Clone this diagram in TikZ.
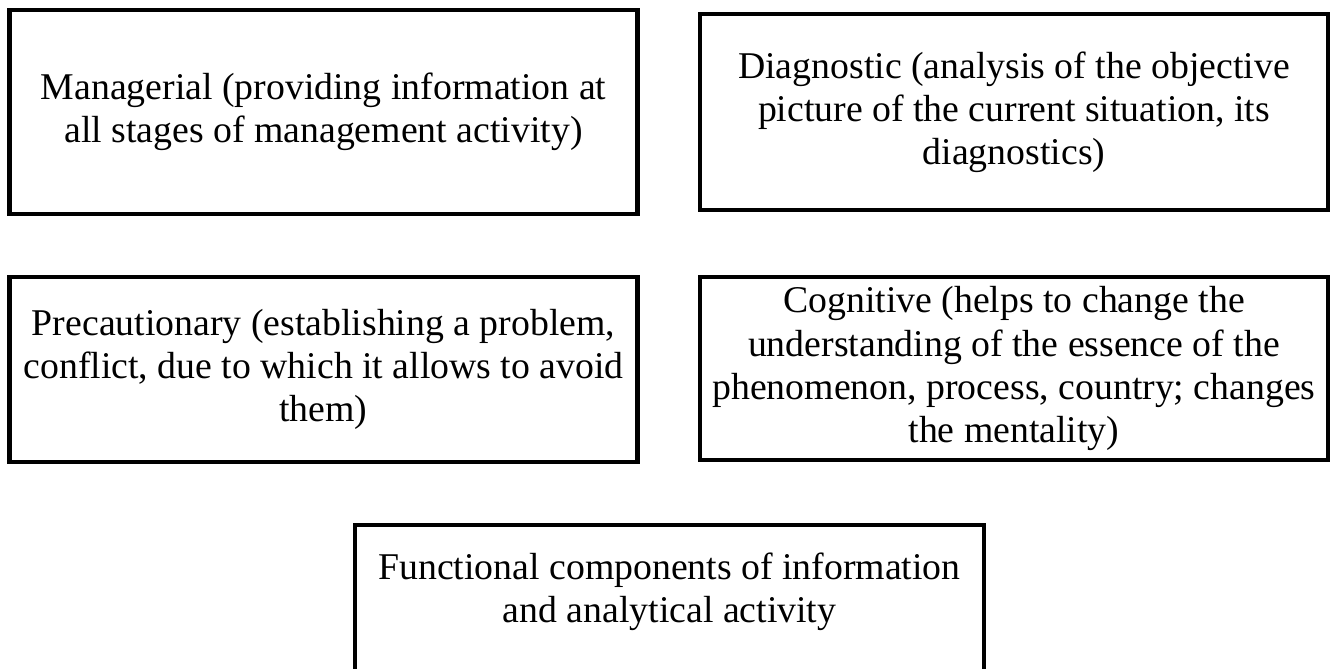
\documentclass[tikz,border=0pt]{standalone}
\usepackage{fontspec}
\setmainfont{Liberation Serif}
\usepackage{tikz}
\usetikzlibrary{positioning}

\begin{document}
\begin{tikzpicture}[
    x=0.02cm, y=-0.02cm,
    box/.style={draw, line width=0.09cm, minimum width=12.56cm, align=center,
      font=\fontsize{21.5}{24.5}\selectfont},
    txt/.style={align=center, font=\fontsize{21.5}{24.5}\selectfont}
  ]
    \useasboundingbox (0,0) rectangle (1335,669);
    \clip (0,0) rectangle (1335,669);
    \node[box, minimum height=4.08cm] (manag) at (323.5,112)
      {Managerial (providing information at\\all stages of management activity)};
    \node[box, minimum height=3.92cm] (diagn) at (1014,112)
      {Diagnostic (analysis of the objective\\picture of the current situation, its\\diagnostics)};
    \node[box, minimum height=3.7cm] (precau) at (323.5,369.5)
      {Precautionary (establishing a problem,\\conflict, due to which it allows to avoid\\them)};
    \node[box, minimum height=3.66cm] (cogn) at (1014,368.5)
      {Cognitive (helps to change the\\understanding of the essence of the\\phenomenon, process, country; changes\\the mentality)};
    % bottom box runs past the lower edge
    \coordinate (funcnw) at (355,525);
    \coordinate (funcse) at (984,720);
    \draw[line width=0.09cm] (funcnw) rectangle (funcse);
    \node[txt] (func) at (669.5,592)
      {Functional components of information\\and analytical activity};
\end{tikzpicture}
\end{document}
